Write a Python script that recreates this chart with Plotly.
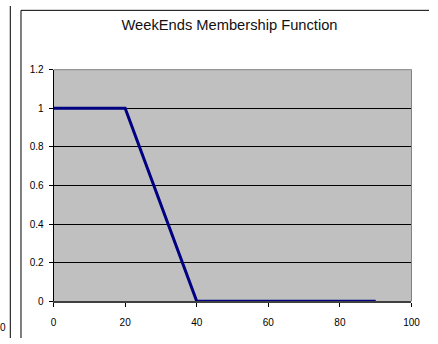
import plotly.graph_objects as go

# Membership function breakpoints
x_vals = [0, 20, 40, 90]
membership = [1, 1, 0, 0]

x_ticks = [0, 20, 40, 60, 80, 100]
y_ticks = [0, 0.2, 0.4, 0.6, 0.8, 1, 1.2]
y_tick_text = ["0", "0.2", "0.4", "0.6", "0.8", "1", "1.2"]

W, H = 438, 344
# plot area in pixels
px_l, px_r, px_t, px_b = 52, 420, 66, 306

fig = go.Figure()
fig.add_trace(go.Scatter(
    x=x_vals, y=membership, mode="lines",
    line=dict(color="#000080", width=3),
    hoverinfo="skip", showlegend=False,
))

font = dict(family="Liberation Sans, Arial, sans-serif", size=10, color="#000000")

fig.update_layout(
    width=W, height=H,
    margin=dict(l=0, r=0, t=0, b=0),
    paper_bgcolor="white",
    plot_bgcolor="#C0C0C0",
    font=font,
    showlegend=False,
    title=dict(
        text="WeekEnds Membership Function",
        x=229.5 / W, xanchor="center",
        y=1 - 25 / H, yanchor="middle",
        font=dict(family="Liberation Sans, Arial, sans-serif", size=14.7, color="#111111"),
    ),
    xaxis=dict(
        domain=[px_l / W, px_r / W],
        range=[0, 100],
        tickvals=x_ticks,
        ticks="outside", ticklen=4, tickcolor="#000000", tickwidth=1,
        showgrid=False, zeroline=False,
        showline=True, linecolor="#404040", linewidth=2,
        ticklabelstandoff=7,
        fixedrange=True,
    ),
    yaxis=dict(
        domain=[1 - px_b / H, 1 - px_t / H],
        range=[0, 1.2],
        tickvals=y_ticks, ticktext=y_tick_text,
        ticks="outside", ticklen=4, tickcolor="#000000", tickwidth=1,
        showgrid=True, gridcolor="#000000", gridwidth=1,
        zeroline=False,
        showline=True, linecolor="#000000", linewidth=1,
        ticklabelstandoff=3,
        fixedrange=True,
    ),
    shapes=[
        # plot area border (top and right edges in gray)
        dict(type="line", xref="paper", yref="paper",
             x0=px_l / W, x1=px_r / W, y0=1 - px_t / H, y1=1 - px_t / H,
             line=dict(color="#808080", width=1), layer="above"),
        dict(type="line", xref="paper", yref="paper",
             x0=px_r / W, x1=px_r / W, y0=1 - px_t / H, y1=1 - px_b / H,
             line=dict(color="#808080", width=1), layer="above"),
        # chart frame
        dict(type="line", xref="paper", yref="paper",
             x0=18.5 / W, x1=1.0, y0=1 - 4.5 / H, y1=1 - 4.5 / H,
             line=dict(color="#000000", width=1)),
        dict(type="line", xref="paper", yref="paper",
             x0=18.5 / W, x1=18.5 / W, y0=1 - 4.5 / H, y1=0,
             line=dict(color="#000000", width=1)),
        # neighbouring chart's frame edge
        dict(type="line", xref="paper", yref="paper",
             x0=7.5 / W, x1=7.5 / W, y0=1, y1=0,
             line=dict(color="#000000", width=1)),
    ],
    annotations=[
        dict(text="0", xref="paper", yref="paper",
             x=5 / W, xanchor="right", y=1 - 333 / H, yanchor="middle",
             showarrow=False, font=font),
    ],
)

fig.write_html("out.html")
